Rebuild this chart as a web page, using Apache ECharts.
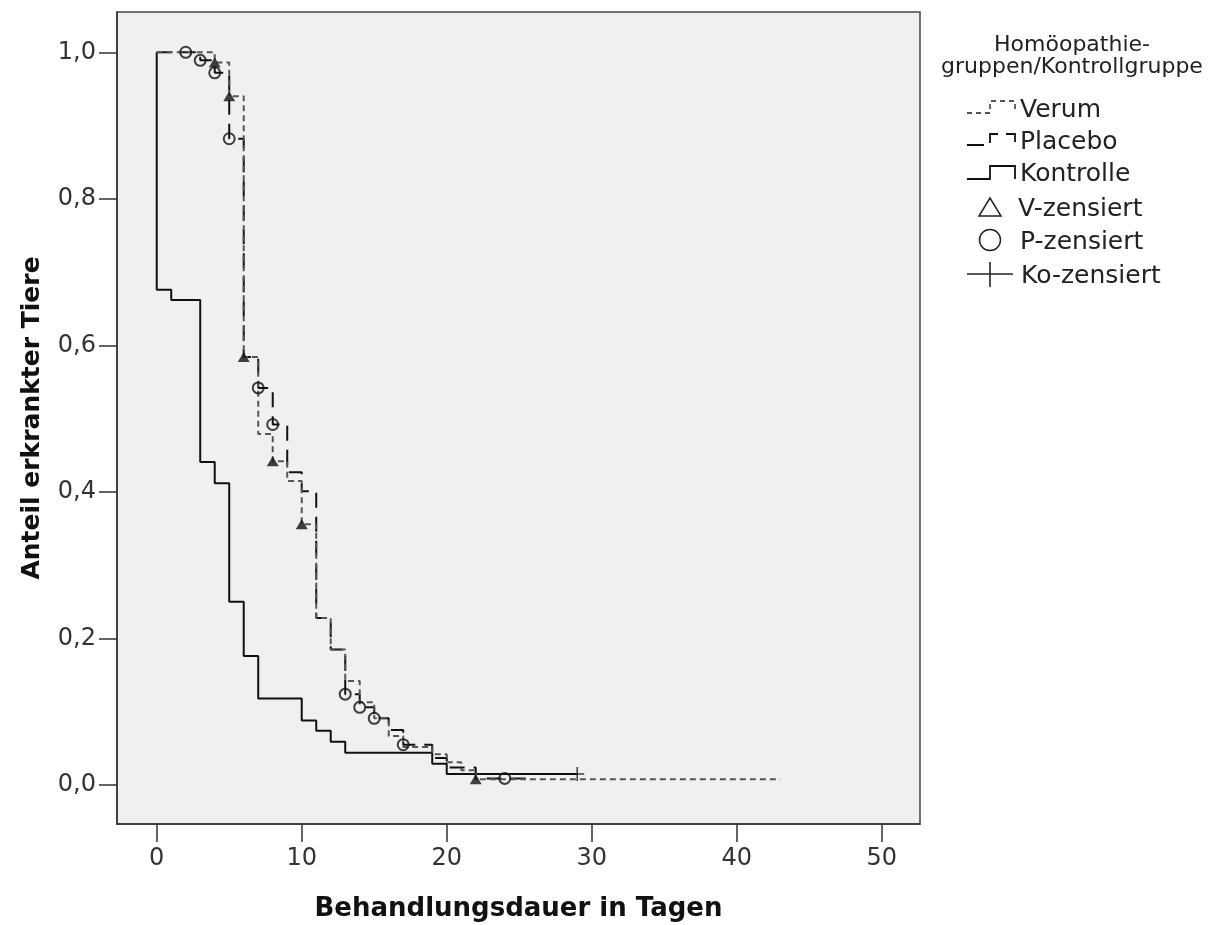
<!DOCTYPE html>
<html>
<head>
<meta charset="utf-8">
<title>Anteil erkrankter Tiere</title>
<script src="https://cdn.jsdelivr.net/npm/echarts@6/dist/echarts.min.js"></script>
<style>
  html, body { margin: 0; padding: 0; background: #fff; }
  #chart { width: 1212px; height: 925px; }
</style>
</head>
<body>
<div id="chart"></div>
<script>
// Werte (Kaplan-Meier-Stufen)
const verumDays = [0, 4, 5, 6, 7, 8, 9, 10, 11, 12, 13, 14, 15, 16, 17, 19, 20, 21, 22, 43];
const verumValues = [1, 0.986, 0.94, 0.584, 0.479, 0.442, 0.415, 0.356, 0.228, 0.185, 0.142, 0.113, 0.091, 0.067, 0.052, 0.042, 0.031, 0.02, 0.008, 0.008];

const placeboDays = [0, 3, 4, 5, 6, 7, 8, 9, 10, 11, 12, 13, 14, 15, 16, 17, 19, 20, 22, 26];
const placeboValues = [1, 0.989, 0.972, 0.882, 0.584, 0.542, 0.492, 0.427, 0.401, 0.228, 0.185, 0.124, 0.106, 0.091, 0.075, 0.055, 0.037, 0.024, 0.009, 0.009];

const kontrolleDays = [0, 0, 1, 3, 4, 5, 6, 7, 10, 11, 12, 13, 19, 20, 29];
const kontrolleValues = [1, 0.676, 0.662, 0.441, 0.412, 0.25, 0.176, 0.118, 0.088, 0.074, 0.059, 0.044, 0.029, 0.015, 0.015];

// zensierte Fälle
const vCensDays = [4, 5, 6, 8, 10, 22];
const vCensValues = [0.986, 0.94, 0.584, 0.442, 0.356, 0.008];
const pCensDays = [2, 3, 4, 5, 7, 8, 13, 14, 15, 17, 24];
const pCensValues = [1, 0.989, 0.972, 0.882, 0.542, 0.492, 0.124, 0.106, 0.091, 0.055, 0.009];
const koCensDays = [29];
const koCensValues = [0.015];

const xTicks = [0, 10, 20, 30, 40, 50];
const yTicks = [0, 0.2, 0.4, 0.6, 0.8, 1.0];

function zip(days, vals) {
  return days.map((d, i) => [d, vals[i]]);
}

const FONT = "'DejaVu Sans', sans-serif";

const myChart = echarts.init(document.getElementById('chart'));

myChart.setOption({
  animation: false,
  backgroundColor: '#fff',
  grid: {
    left: 117,
    top: 12,
    right: 292,
    bottom: 101,
    outerBoundsMode: 'none',
    show: true,
    backgroundColor: '#f0f0f0',
    borderColor: '#444',
    borderWidth: 1.5
  },
  xAxis: {
    type: 'value',
    min: -2.74,
    max: 52.64,
    name: 'Behandlungsdauer in Tagen',
    nameLocation: 'middle',
    nameGap: 72,
    nameTextStyle: { fontFamily: FONT, fontSize: 26, fontWeight: 'bold', color: '#111' },
    axisLine: { onZero: false, lineStyle: { color: '#333', width: 1.5 } },
    axisTick: { customValues: xTicks, length: 18, lineStyle: { color: '#333', width: 1.5 } },
    axisLabel: {
      customValues: xTicks,
      margin: 23,
      fontFamily: FONT,
      fontSize: 24,
      color: '#333'
    },
    splitLine: { show: false }
  },
  yAxis: {
    type: 'value',
    min: -0.0532,
    max: 1.055,
    name: 'Anteil erkrankter Tiere',
    nameLocation: 'middle',
    nameGap: 72,
    nameRotate: 90,
    nameTextStyle: { fontFamily: FONT, fontSize: 25, fontWeight: 'bold', color: '#111' },
    axisLine: { onZero: false, lineStyle: { color: '#333', width: 1.5 } },
    axisTick: { customValues: yTicks, length: 18, lineStyle: { color: '#333', width: 1.5 } },
    axisLabel: {
      customValues: yTicks,
      margin: 21,
      fontFamily: FONT,
      fontSize: 24,
      color: '#333',
      formatter: v => v.toFixed(1).replace('.', ',')
    },
    splitLine: { show: false }
  },
  series: [
    {
      name: 'Kontrolle',
      type: 'line',
      step: 'end',
      symbol: 'none',
      data: zip(kontrolleDays, kontrolleValues),
      lineStyle: { color: '#111', width: 2, type: 'solid' }
    },
    {
      name: 'Placebo',
      type: 'line',
      step: 'end',
      symbol: 'none',
      data: zip(placeboDays, placeboValues),
      lineStyle: { color: '#111', width: 2, type: [15, 9] }
    },
    {
      name: 'Verum',
      type: 'line',
      step: 'end',
      symbol: 'none',
      data: zip(verumDays, verumValues),
      lineStyle: { color: '#555', width: 2, type: [6, 4] }
    },
    {
      name: 'V-zensiert',
      type: 'scatter',
      symbol: 'triangle',
      symbolSize: [12, 10],
      data: zip(vCensDays, vCensValues),
      itemStyle: { color: '#111' },
      z: 5
    },
    {
      name: 'P-zensiert',
      type: 'scatter',
      symbol: 'circle',
      symbolSize: 11,
      data: zip(pCensDays, pCensValues),
      itemStyle: { color: 'rgba(0,0,0,0)', borderColor: '#111', borderWidth: 2 },
      z: 5
    },
    {
      name: 'Ko-zensiert',
      type: 'scatter',
      symbol: 'path://M0,6.25h14v1.5h-14z M6.25,0h1.5v14h-1.5z',
      symbolSize: 14,
      data: zip(koCensDays, koCensValues),
      itemStyle: { color: '#111' },
      z: 5
    }
  ],
  // Legende rechts als Grafik, wie im SPSS-Original
  graphic: [
    { type: 'text', style: { x: 1072, y: 45, text: 'Homöopathie-', textAlign: 'center', textVerticalAlign: 'middle', font: '22px ' + FONT, fill: '#222' } },
    { type: 'text', style: { x: 1072, y: 67, text: 'gruppen/Kontrollgruppe', textAlign: 'center', textVerticalAlign: 'middle', font: '22px ' + FONT, fill: '#222' } },

    { type: 'polyline', shape: { points: [[967, 113], [990, 113], [990, 101], [1015, 101], [1015, 113]] }, style: { stroke: '#555', lineWidth: 1.8, lineDash: [5, 4], fill: 'none' } },
    { type: 'text', style: { x: 1020, y: 110, text: 'Verum', textVerticalAlign: 'middle', font: '25px ' + FONT, fill: '#222' } },

    { type: 'polyline', shape: { points: [[967, 145], [990, 145], [990, 134], [1015, 134], [1015, 145]] }, style: { stroke: '#111', lineWidth: 1.8, lineDash: [17, 8], fill: 'none' } },
    { type: 'text', style: { x: 1020, y: 142, text: 'Placebo', textVerticalAlign: 'middle', font: '25px ' + FONT, fill: '#222' } },

    { type: 'polyline', shape: { points: [[967, 179], [990, 179], [990, 166], [1015, 166], [1015, 179]] }, style: { stroke: '#111', lineWidth: 1.8, fill: 'none' } },
    { type: 'text', style: { x: 1020, y: 174, text: 'Kontrolle', textVerticalAlign: 'middle', font: '25px ' + FONT, fill: '#222' } },

    { type: 'polygon', shape: { points: [[979, 216], [1001, 216], [990, 198]] }, style: { stroke: '#222', lineWidth: 1.5, fill: 'none' } },
    { type: 'text', style: { x: 1018, y: 209, text: 'V-zensiert', textVerticalAlign: 'middle', font: '25px ' + FONT, fill: '#222' } },

    { type: 'circle', shape: { cx: 990, cy: 240, r: 10.5 }, style: { stroke: '#222', lineWidth: 1.5, fill: 'none' } },
    { type: 'text', style: { x: 1020, y: 242, text: 'P-zensiert', textVerticalAlign: 'middle', font: '25px ' + FONT, fill: '#222' } },

    { type: 'line', shape: { x1: 967, y1: 274, x2: 1013, y2: 274 }, style: { stroke: '#222', lineWidth: 1.6 } },
    { type: 'line', shape: { x1: 990, y1: 262, x2: 990, y2: 287 }, style: { stroke: '#222', lineWidth: 1.6 } },
    { type: 'text', style: { x: 1021, y: 276, text: 'Ko-zensiert', textVerticalAlign: 'middle', font: '25px ' + FONT, fill: '#222' } }
  ]
});
</script>
</body>
</html>
